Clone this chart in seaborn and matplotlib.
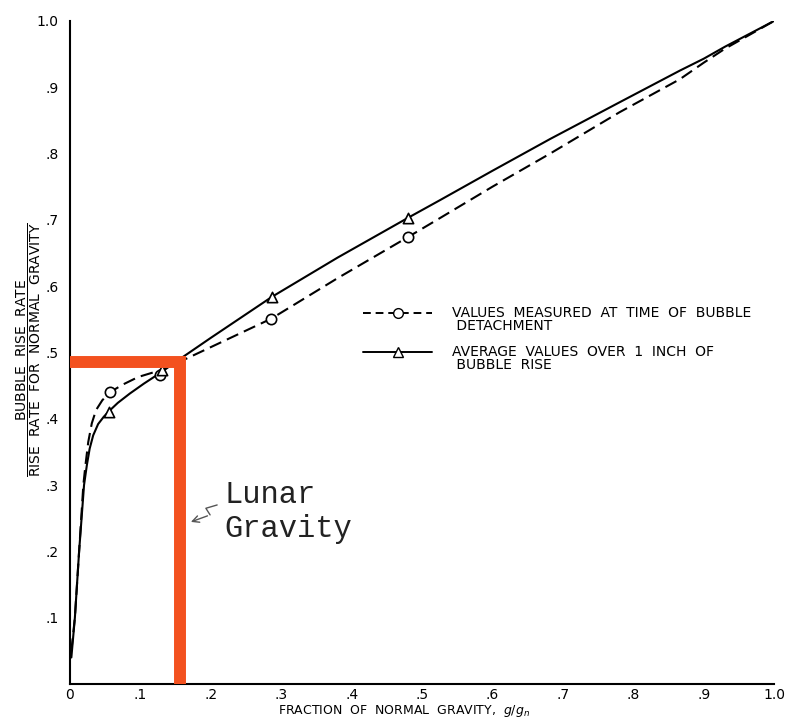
import numpy as np
import seaborn as sns
import matplotlib.pyplot as plt
from matplotlib.lines import Line2D
from matplotlib.legend_handler import HandlerLine2D

# faired curve, values at time of bubble detachment (dashed)
detach_curve_x = [0.002, 0.007, 0.013, 0.019, 0.022, 0.026, 0.031, 0.037, 0.046, 0.057, 0.074, 0.097,
                  0.128, 0.156, 0.200, 0.286, 0.380, 0.480, 0.526, 0.600, 0.682, 0.780, 0.866, 0.900,
                  0.930, 1.0]
detach_curve_y = [0.050, 0.100, 0.200, 0.300, 0.330, 0.365, 0.393, 0.413, 0.428, 0.440, 0.451, 0.463,
                  0.473, 0.486, 0.508, 0.551, 0.612, 0.674, 0.703, 0.750, 0.800, 0.862, 0.912, 0.937,
                  0.958, 1.0]

# faired curve, average values over 1 inch of rise (solid)
avg_curve_x = [0.002, 0.007, 0.013, 0.020, 0.024, 0.028, 0.033, 0.040, 0.048, 0.056, 0.068, 0.085,
               0.105, 0.128, 0.156, 0.200, 0.287, 0.380, 0.480, 0.526, 0.600, 0.682, 0.780, 0.866,
               0.900, 0.930, 1.0]
avg_curve_y = [0.040, 0.100, 0.200, 0.300, 0.330, 0.355, 0.375, 0.392, 0.403, 0.412, 0.424, 0.438,
               0.453, 0.469, 0.490, 0.522, 0.584, 0.643, 0.703, 0.730, 0.774, 0.822, 0.877, 0.925,
               0.943, 0.961, 1.0]

# measured points
detach_x = [0.057, 0.128, 0.286, 0.480]
detach_y = [0.440, 0.466, 0.551, 0.674]
avg_x = [0.055, 0.131, 0.287, 0.480]
avg_y = [0.410, 0.474, 0.584, 0.703]

# lunar gravity marker (as drawn)
lunar_g = 0.156
lunar_rate = 0.486

ticks = [0, 0.1, 0.2, 0.3, 0.4, 0.5, 0.6, 0.7, 0.8, 0.9, 1.0]
x_tick_labels = ['0', '.1', '.2', '.3', '.4', '.5', '.6', '.7', '.8', '.9', '1.0']
y_tick_labels = ['', '.1', '.2', '.3', '.4', '.5', '.6', '.7', '.8', '.9', '1.0']

sns.set_theme(style='white')
plt.rcParams['font.family'] = ['DejaVu Sans']
plt.rcParams['mathtext.fontset'] = 'dejavusans'
plt.rcParams['text.color'] = 'black'
plt.rcParams['axes.labelcolor'] = 'black'


class FirstLineHandler(HandlerLine2D):
    # put the legend sample level with the first line of a two-line label
    def create_artists(self, legend, orig_handle, xdescent, ydescent, width, height, fontsize, trans):
        artists = super().create_artists(legend, orig_handle, xdescent, ydescent,
                                         width, height, fontsize, trans)
        for a in artists:
            a.set_ydata(np.asarray(a.get_ydata()) + 0.5 * fontsize)
        return artists


fig = plt.figure(figsize=(7.86, 7.2), dpi=100)
ax = fig.add_axes([0.089, 0.05, 0.896, 0.921])

sns.lineplot(x=detach_curve_x, y=detach_curve_y, sort=False, estimator=None, ax=ax,
             color='black', lw=1.5, linestyle=(0, (6, 3)))
sns.lineplot(x=avg_curve_x, y=avg_curve_y, sort=False, estimator=None, ax=ax,
             color='black', lw=1.5)
ax.scatter(detach_x, detach_y, s=55, marker='o', facecolors='white', edgecolors='black',
           linewidths=1.2, zorder=3)
ax.scatter(avg_x, avg_y, s=55, marker='^', facecolors='white', edgecolors='black',
           linewidths=1.2, zorder=3)

# red overlay marking lunar gravity
ax.plot([0, lunar_g, lunar_g], [lunar_rate, lunar_rate, 0], color='#f3511f', lw=8.6,
        solid_joinstyle='miter', solid_capstyle='butt', zorder=5, clip_on=False)

ax.set_xlim(0, 1.0)
ax.set_ylim(0, 1.0)
ax.set_xticks(ticks)
ax.set_xticklabels(x_tick_labels)
ax.set_yticks(ticks)
ax.set_yticklabels(y_tick_labels)
ax.tick_params(axis='both', direction='in', length=11, width=1.1, color='black',
               labelsize=10, labelcolor='black')
ax.tick_params(axis='y', pad=8)
ax.tick_params(axis='x', pad=3)

sns.despine(ax=ax)
for side in ['left', 'bottom']:
    ax.spines[side].set_linewidth(1.5)
    ax.spines[side].set_color('black')

ax.set_xlabel(r'FRACTION  OF  NORMAL  GRAVITY,  $g/g_n$', fontsize=9)
ax.xaxis.set_label_coords(0.474, -0.028)
ax.xaxis.label.set_va('top')
ax.set_ylabel(r'$\dfrac{\mathsf{BUBBLE\ \ RISE\ \ RATE}}{\mathsf{RISE\ \ RATE\ \ FOR\ \ NORMAL\ \ GRAVITY}}$',
              fontsize=10)
ax.yaxis.set_label_coords(-0.038, 0.504)

handles = [Line2D([], [], color='black', lw=1.4, linestyle=(0, (4, 2.5)), marker='o',
                  markersize=7, markerfacecolor='white', markeredgecolor='black'),
           Line2D([], [], color='black', lw=1.4, marker='^', markersize=7,
                  markerfacecolor='white', markeredgecolor='black')]
labels = ['VALUES  MEASURED  AT  TIME  OF  BUBBLE\n DETACHMENT',
          'AVERAGE  VALUES  OVER  1  INCH  OF\n BUBBLE  RISE']
leg = ax.legend(handles, labels, loc='upper left', bbox_to_anchor=(0.416, 0.570), frameon=False,
                fontsize=10, handlelength=5, handletextpad=1.4, labelspacing=0.8,
                borderpad=0, borderaxespad=0, numpoints=1,
                handler_map={h: FirstLineHandler() for h in handles})
for t in leg.get_texts():
    t.set_linespacing(0.95)

ax.text(0.219, 0.308, 'Lunar\nGravity', family='Liberation Mono', fontsize=22,
        va='top', ha='left', linespacing=1.2, color='#222222')
ax.plot([0.209, 0.193, 0.199], [0.270, 0.265, 0.255], color='#555555', lw=1)
ax.annotate('', xy=(0.168, 0.243), xytext=(0.199, 0.255),
            arrowprops=dict(arrowstyle='->', color='#555555', lw=1))

fig.savefig('out.png', dpi=100, facecolor='white')
